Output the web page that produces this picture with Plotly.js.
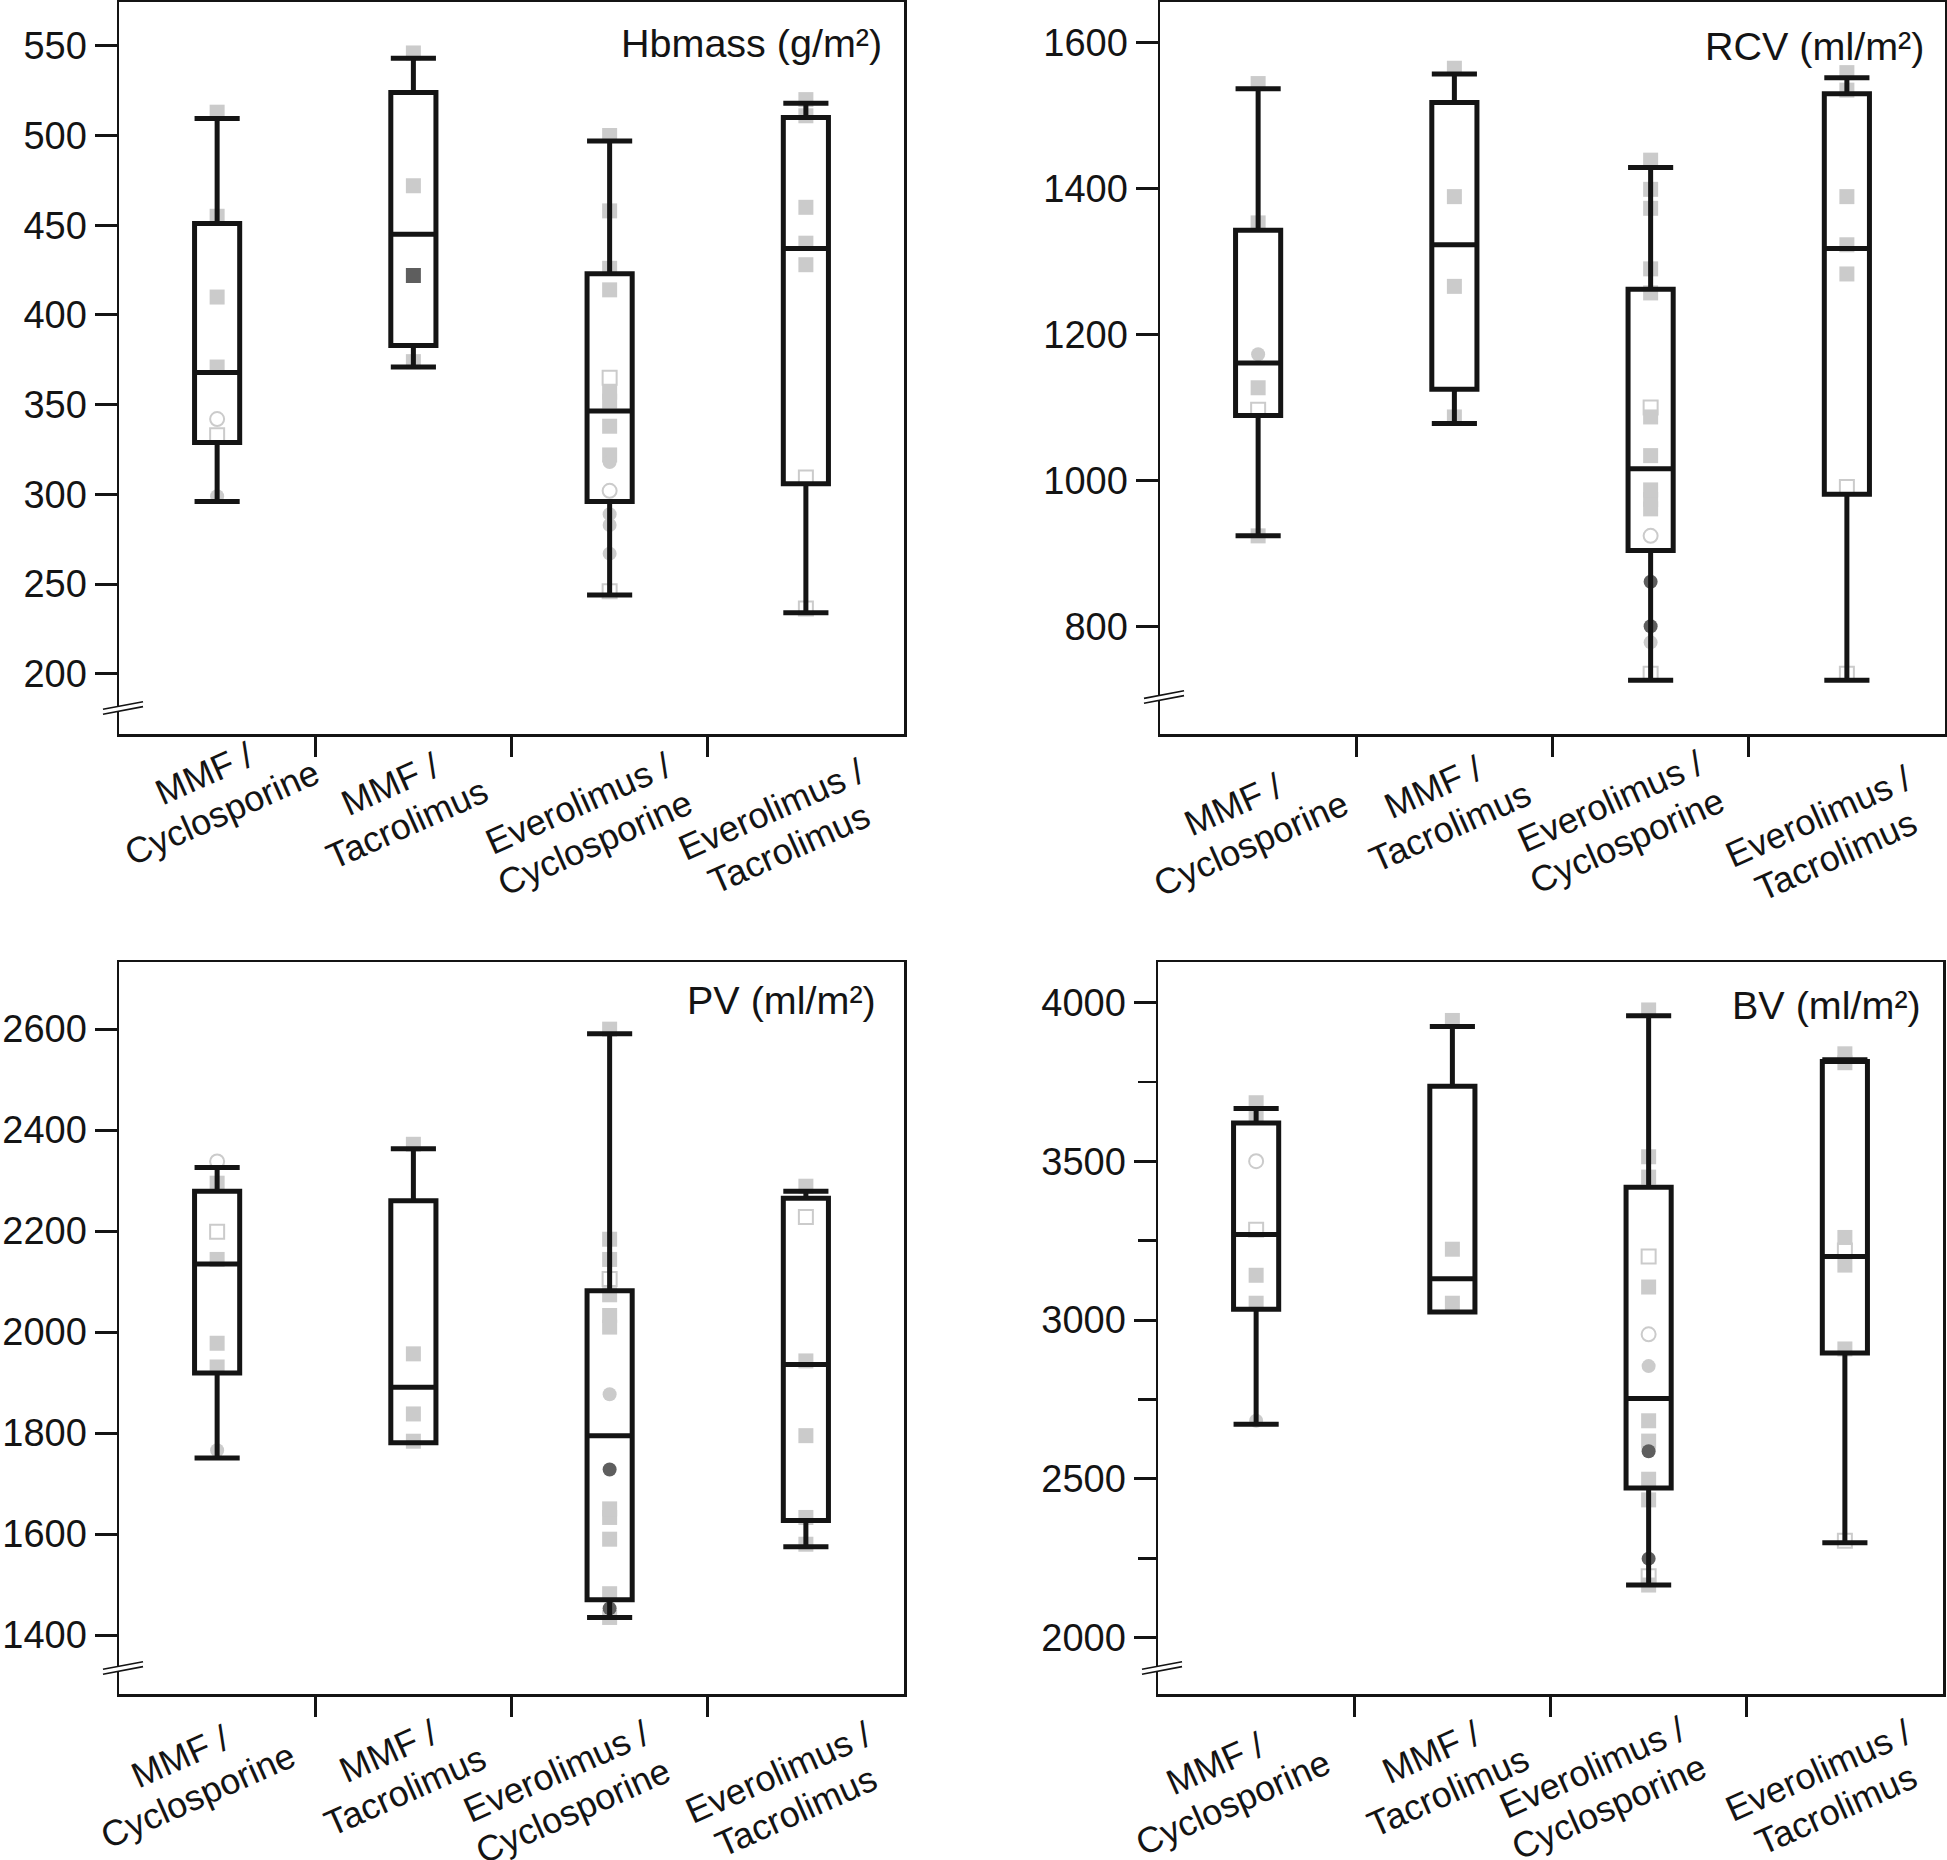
<!DOCTYPE html>
<html><head><meta charset="utf-8">
<script src="https://cdn.plot.ly/plotly-3.0.1.min.js"></script>
<style>html,body{margin:0;padding:0;background:#fff}</style>
</head><body><div id="chart" style="width:1947px;height:1860px"></div>
<script>
// ---------- categories / tick labels ----------
const categories = ['MMF / Cyclosporine', 'MMF / Tacrolimus', 'Everolimus / Cyclosporine', 'Everolimus / Tacrolimus'];
const tickLabels = ['MMF /<br>Cyclosporine', 'MMF /<br>Tacrolimus', 'Everolimus /<br>Cyclosporine', 'Everolimus /<br>Tacrolimus'];
const panelTitles = ['Hbmass (g/m²)', 'RCV (ml/m²)', 'PV (ml/m²)', 'BV (ml/m²)'];

// ---------- Hbmass ----------
const hbLower  = [296, 371, 244, 234];
const hbQ1     = [329, 383, 296, 306];
const hbMedian = [368, 445, 346.5, 437];
const hbQ3     = [451, 524, 423, 510];
const hbUpper  = [509.5, 543, 497, 518];
const hbGraySq   = [[513, 455, 410, 371], [546, 472, 374], [500, 458, 426, 414, 357, 352, 338, 322], [520, 511, 460, 440, 428]];
const hbGrayCirc = [[299], [], [318, 289, 283, 267], []];
const hbOpenSq   = [[333], [], [365, 246], [309.5, 236.5]];
const hbOpenCirc = [[342], [], [302], []];
const hbDarkSq   = [[], [422], [], []];
const hbDarkCirc = [[], [], [], []];

// ---------- RCV ----------
const rcvLower  = [924, 1078, 726, 726];
const rcvQ1     = [1089, 1125, 904, 981];
const rcvMedian = [1161, 1323, 1016, 1318];
const rcvQ3     = [1343, 1518, 1262, 1530];
const rcvUpper  = [1537, 1557, 1429, 1552];
const rcvGraySq   = [[1544, 1353, 1127, 924], [1565, 1389, 1266, 1087], [1439, 1399, 1373, 1290, 1257, 1087, 1034, 987, 974, 961], [1559, 1535, 1389, 1323, 1283]];
const rcvGrayCirc = [[1173], [], [778], []];
const rcvOpenSq   = [[1097], [], [1100, 735], [991, 735]];
const rcvOpenCirc = [[], [], [924], []];
const rcvDarkSq   = [[], [], [], []];
const rcvDarkCirc = [[], [], [861, 800], []];

// ---------- PV ----------
const pvLower  = [1751, 1781, 1435, 1575];
const pvQ1     = [1919, 1781, 1470, 1627];
const pvMedian = [2135, 1891, 1795, 1936];
const pvQ3     = [2279, 2260, 2082, 2265];
const pvUpper  = [2326, 2363, 2591, 2279];
const pvGraySq   = [[2295, 2144, 1978, 1931], [2372, 1957, 1838, 1784], [2600, 2184, 2144, 2074, 2033, 2010, 1650, 1633, 1590, 1482, 1435], [2289, 1943, 1795, 1633, 1580]];
const pvGrayCirc = [[1766], [], [1877], []];
const pvOpenSq   = [[2199], [], [2105], [2228]];
const pvOpenCirc = [[2338], [], [], []];
const pvDarkSq   = [[], [], [], []];
const pvDarkCirc = [[], [], [1728, 1453], []];

// ---------- BV ----------
const bvLower  = [2672, 3025, 2166, 2299];
const bvQ1     = [3034, 3025, 2471, 2896];
const bvMedian = [3269, 3130, 2753, 3200];
const bvQ3     = [3620, 3736, 3418, 3814];
const bvUpper  = [3666, 3924, 3958, 3819];
const bvGraySq   = [[3684, 3644, 3141, 3053], [3943, 3223, 3053], [3976, 3514, 3450, 3104, 2683, 2619, 2499, 2434, 2166], [3838, 3810, 3260, 3173, 2909]];
const bvGrayCirc = [[2683], [], [2855], []];
const bvOpenSq   = [[3284], [], [3200, 2194], [3219, 2305]];
const bvOpenCirc = [[3500], [], [2955], []];
const bvDarkSq   = [[], [], [], []];
const bvDarkCirc = [[], [], [2587, 2249], []];

// ---------- panel configuration (layout only) ----------
const W = 1947, H = 1860;
const FONT = 'Liberation Sans, Arial, Helvetica, sans-serif';
const INK = '#141414';
const LIGHT = '#cbcbcb';
const DARK = '#5e5e5e';
const LABEL_ANGLE = 24;     // degrees, text rises to the right
const LABEL_LINE = 43;      // px between the two label lines

const panels = [
  {x: '', y: '', px: [119, 904], py: [2, 734], range: [166.5, 574.4], tick0: 200, dtick: 50,
   stats: [hbLower, hbQ1, hbMedian, hbQ3, hbUpper],
   pts: [hbGraySq, hbGrayCirc, hbOpenSq, hbOpenCirc, hbDarkSq, hbDarkCirc],
   title: panelTitles[0], tpos: [0.974, 0.944], breakShift: 0,
   lab: [[-4, 59], [-15, 70], [-23, 89], [-26, 95]]},
  {x: '2', y: '2', px: [1160, 1945], py: [2, 734], range: [652.4, 1655.8], tick0: 800, dtick: 200,
   stats: [rcvLower, rcvQ1, rcvMedian, rcvQ3, rcvUpper],
   pts: [rcvGraySq, rcvGrayCirc, rcvOpenSq, rcvOpenCirc, rcvDarkSq, rcvDarkCirc],
   title: panelTitles[1], tpos: [0.976, 0.94], breakShift: 0.015,
   lab: [[-16, 90], [-13, 73], [-32, 87], [-20, 102]]},
  {x: '3', y: '3', px: [119, 904], py: [962, 1694], range: [1283.4, 2733], tick0: 1400, dtick: 200,
   stats: [pvLower, pvQ1, pvMedian, pvQ3, pvUpper],
   pts: [pvGraySq, pvGrayCirc, pvOpenSq, pvOpenCirc, pvDarkSq, pvDarkCirc],
   title: panelTitles[2], tpos: [0.967, 0.948], breakShift: 0,
   lab: [[-28, 82], [-17, 77], [-45, 97], [-19, 98]]},
  {x: '4', y: '4', px: [1158, 1943], py: [962, 1694], range: [1823, 4127], tick0: 2000, dtick: 500, minor: 250,
   stats: [bvLower, bvQ1, bvMedian, bvQ3, bvUpper],
   pts: [bvGraySq, bvGrayCirc, bvOpenSq, bvOpenCirc, bvDarkSq, bvDarkCirc],
   title: panelTitles[3], tpos: [0.975, 0.941], breakShift: 0,
   lab: [[-32, 89], [-13, 78], [-48, 93], [-18, 96]]}
];

const pointStyles = [
  {symbol: 'square', size: 15, color: LIGHT, line: {width: 0}},
  {symbol: 'circle', size: 14, color: LIGHT, line: {width: 0}},
  {symbol: 'square-open', size: 14, color: LIGHT, line: {width: 2, color: LIGHT}},
  {symbol: 'circle-open', size: 14, color: LIGHT, line: {width: 2, color: LIGHT}},
  {symbol: 'square', size: 15, color: DARK, line: {width: 0}},
  {symbol: 'circle', size: 14, color: DARK, line: {width: 0}}
];

const traces = [];
const layout = {
  width: W, height: H, margin: {l: 0, r: 0, t: 0, b: 0},
  paper_bgcolor: '#fff', plot_bgcolor: '#fff',
  showlegend: false, boxmode: 'overlay',
  font: {family: FONT, color: INK},
  annotations: [], shapes: []
};

const th = LABEL_ANGLE * Math.PI / 180;
const upX = -Math.sin(th), upY = -Math.cos(th);   // screen "up" direction of the rotated text

panels.forEach(p => {
  const xa = 'x' + p.x, ya = 'y' + p.y;
  // points (drawn first, under the boxes)
  p.pts.forEach((groups, k) => {
    const x = [], y = [];
    groups.forEach((vals, i) => vals.forEach(v => { x.push(categories[i]); y.push(v); }));
    if (!y.length) return;
    traces.push({type: 'box', x: x, y: y, xaxis: xa, yaxis: ya,
      boxpoints: 'all', jitter: 0, pointpos: 0,
      line: {width: 0, color: 'rgba(0,0,0,0)'}, fillcolor: 'rgba(0,0,0,0)',
      marker: pointStyles[k], hoverinfo: 'y'});
  });
  // boxes
  traces.push({type: 'box', x: categories, xaxis: xa, yaxis: ya,
    lowerfence: p.stats[0], q1: p.stats[1], median: p.stats[2], q3: p.stats[3], upperfence: p.stats[4],
    boxpoints: false, width: 0.23, whiskerwidth: 1,
    line: {color: INK, width: 5}, fillcolor: 'rgba(0,0,0,0)'});

  layout['xaxis' + p.x] = {
    domain: [p.px[0] / W, p.px[1] / W], anchor: ya, type: 'category',
    categoryorder: 'array', categoryarray: categories, range: [-0.5, 3.5],
    tickmode: 'array', tickvals: [0.5, 1.5, 2.5], ticks: 'outside', ticklen: 20, tickwidth: 3, tickcolor: INK,
    showticklabels: false, showline: true, linewidth: 2.5, linecolor: INK, mirror: true,
    showgrid: false, zeroline: false, fixedrange: true, automargin: false
  };
  const yax = {
    domain: [(H - p.py[1]) / H, (H - p.py[0]) / H], anchor: xa, range: p.range,
    tickmode: 'linear', tick0: p.tick0, dtick: p.dtick,
    ticks: 'outside', ticklen: 22, tickwidth: 3, tickcolor: INK,
    tickfont: {size: 38, color: INK, family: FONT}, ticklabelstandoff: 0,
    showline: true, linewidth: 2.5, linecolor: INK, mirror: true,
    showgrid: false, zeroline: false, fixedrange: true, automargin: false
  };
  if (p.minor) yax.minor = {ticks: 'outside', dtick: p.minor, tick0: p.tick0, ticklen: 18, tickwidth: 2.5, tickcolor: INK, showgrid: false};
  layout['yaxis' + p.y] = yax;

  // panel title
  layout.annotations.push({text: p.title, xref: xa + ' domain', yref: ya + ' domain',
    x: p.tpos[0], y: p.tpos[1], xanchor: 'right', yanchor: 'middle', showarrow: false,
    font: {size: 39.5, color: INK, family: FONT}});

  // category labels: each line is its own rotated annotation, centred on the block
  categories.forEach((c, i) => {
    const lines = tickLabels[i].split('<br>');
    const [dx, dy] = p.lab[i];
    lines.forEach((t, j) => {
      const k = (j - (lines.length - 1) / 2) * LABEL_LINE;   // negative = upper line
      const sx = dx - k * upX, sy = dy - k * upY;            // screen offset (y down)
      layout.annotations.push({text: t, xref: xa, yref: ya + ' domain',
        x: c, y: 0, xanchor: 'center', yanchor: 'middle',
        xshift: sx, yshift: -sy, textangle: -LABEL_ANGLE, showarrow: false,
        font: {size: 36, color: INK, family: FONT}});
    });
  });

  // axis break mark
  const b = p.breakShift;
  const xr = xa + ' domain', yr = ya + ' domain';
  layout.shapes.push({type: 'path', xref: xr, yref: yr, layer: 'above',
    path: `M -0.0204 ${0.0337 + b} L 0.0306 ${0.0441 + b} L 0.0306 ${0.0374 + b} L -0.0204 ${0.0270 + b} Z`,
    fillcolor: '#fff', line: {width: 0}});
  [[0.0337, 0.0441], [0.0270, 0.0374]].forEach(l => {
    layout.shapes.push({type: 'line', xref: xr, yref: yr, layer: 'above',
      x0: -0.0204, y0: l[0] + b, x1: 0.0306, y1: l[1] + b, line: {color: INK, width: 1.6}});
  });
});

Plotly.newPlot('chart', traces, layout, {staticPlot: true});
</script></body></html>
